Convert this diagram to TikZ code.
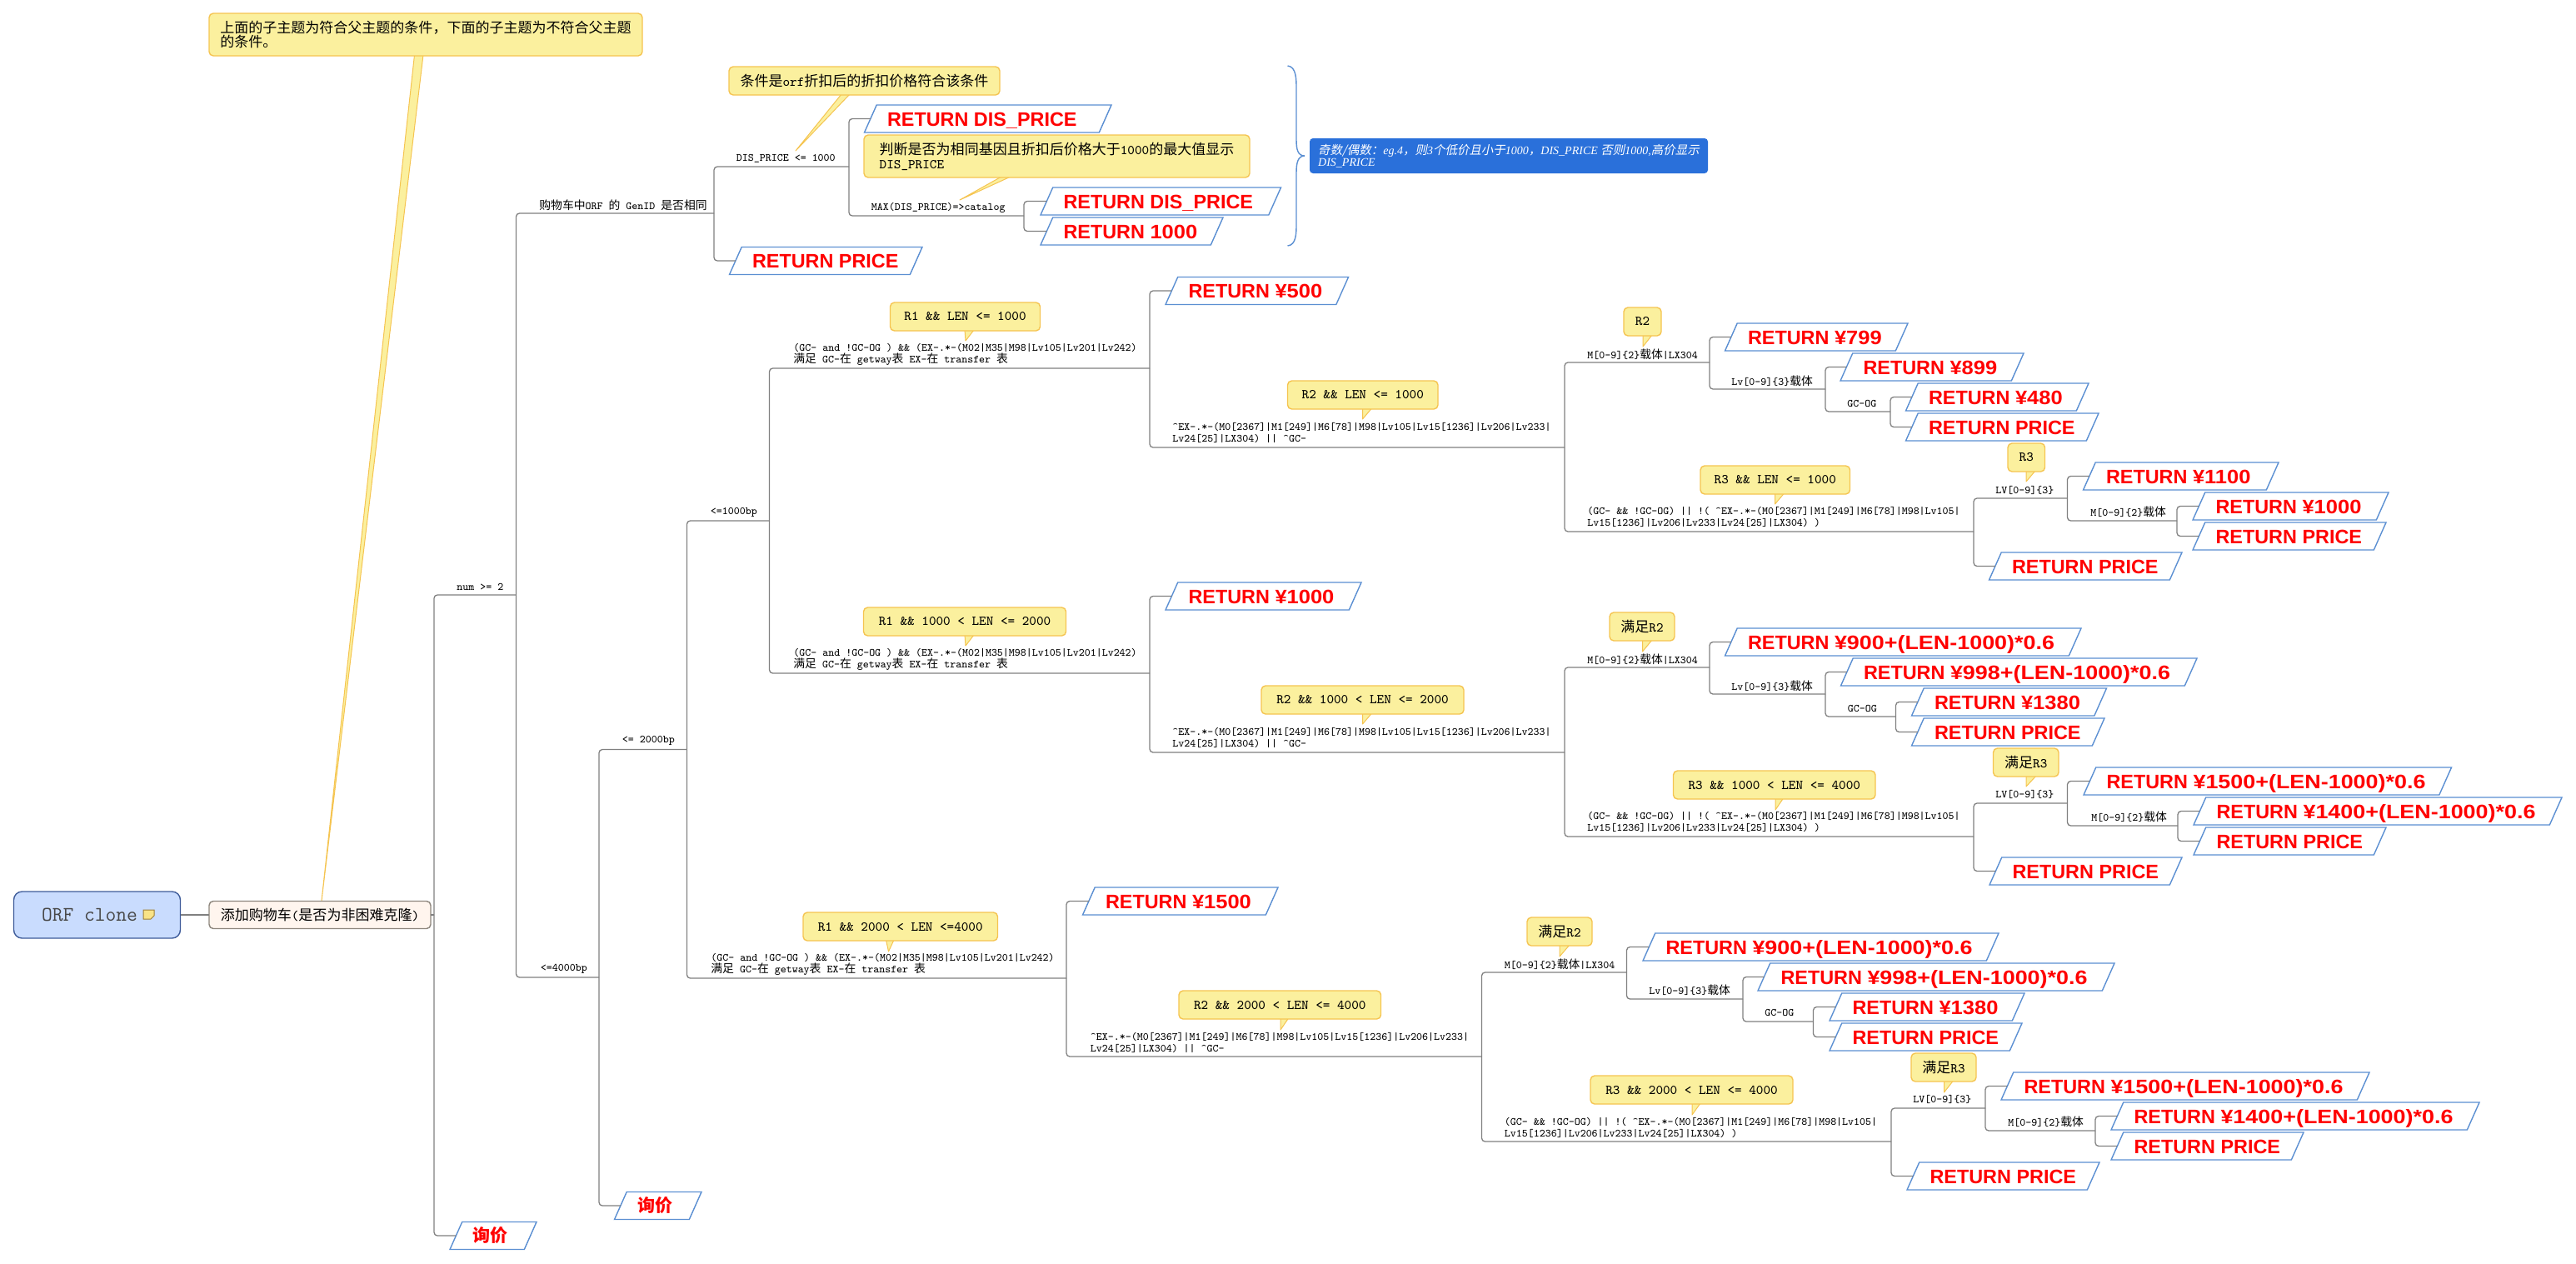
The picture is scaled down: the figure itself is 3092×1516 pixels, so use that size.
\documentclass[tikz,border=0pt]{standalone}
\usepackage{fontspec}
\usetikzlibrary{shapes.geometric}
\newfontfamily\cnfont[Scale=1.05]{Noto Sans CJK SC}
\newfontfamily\cnslant[FakeSlant=0.2,Scale=1.035]{Noto Sans CJK SC}
\newfontfamily\retfont{Liberation Sans}
\newfontfamily\retwide[FakeStretch=1.15]{Liberation Sans}
\newfontfamily\retshort[FakeStretch=1.09]{Liberation Sans}
\newfontfamily\notefont{Liberation Serif}
\newcommand{\zh}[1]{{\cnfont #1}}
\newcommand{\zhi}[1]{{\cnslant #1}}
\newcommand{\rw}[1]{{\retwide #1}}
\newcommand{\rs}[1]{{\retshort #1}}
\definecolor{linegray}{HTML}{808080}
\definecolor{retblue}{HTML}{5B8FD2}
\definecolor{callfill}{HTML}{FBF09E}
\definecolor{callline}{HTML}{F5C451}
\definecolor{rootfill}{HTML}{C9DCFE}
\definecolor{rootline}{HTML}{3F5C9A}
\definecolor{topicfill}{HTML}{FFF5EE}
\definecolor{topicline}{HTML}{8C857C}
\definecolor{notefill}{HTML}{2A70DA}
\tikzset{
  branch/.style={draw=linegray,line width=.65pt,rounded corners=2pt},
  retbox/.style={shape=trapezium,trapezium left angle=66,trapezium right angle=114,
    draw=retblue,line width=.7pt,fill=white,text=red,
    inner xsep=0pt,inner ysep=4pt,outer sep=0pt,
    text height=8.5pt,text depth=0pt,
    font=\retfont\bfseries\fontsize{11.7}{14}\selectfont},
  askbox/.style={retbox,text height=7.6pt,inner ysep=4.45pt,font=\cnfont\bfseries\fontsize{10}{12}\selectfont},
  callbox/.style={draw=callline,fill=callfill,line width=.7pt,rounded corners=2.5pt,
    minimum height=17pt,inner sep=0pt,outer sep=0pt,align=left,
    font=\ttfamily\fontsize{8.1}{8.5}\selectfont},
  calltail/.style={draw=callline,fill=callfill,line width=.5pt,line join=round},
  condlabel/.style={anchor=west,inner sep=0pt,align=left,
    font=\ttfamily\fontsize{6.58}{7}\selectfont},
}
\newcommand{\retn}[6][retbox]{\node[#1] (#2) at ({(#3+#4)/2},#5) {\makebox[\fpeval{(#4-#3-29.4)/2}pt][l]{\kern6.4pt #6}};}
\newcommand{\calln}[6][]{\node[callbox,minimum width={(#4-#3)*.5pt},#1] (#2) at ({(#3+#4)/2},#5) {#6};}
\newcommand{\condA}{(GC- and !GC-OG ) \&\& (EX-.*-(M02|M35|M98|Lv105|Lv201|Lv242)\\\zh{满足} GC-\zh{在} getway\zh{表} EX-\zh{在} transfer \zh{表}}
\newcommand{\condB}{\textasciicircum EX-.*-(M0[2367]|M1[249]|M6[78]|M98|Lv105|Lv15[1236]|Lv206|Lv233|\\Lv24[25]|LX304) || \textasciicircum GC-}
\newcommand{\condC}{(GC- \&\& !GC-OG) || !( \textasciicircum EX-.*-(M0[2367]|M1[249]|M6[78]|M98|Lv105|\\Lv15[1236]|Lv206|Lv233|Lv24[25]|LX304) )}
\newcommand{\condM}{M[0-9]\{2\}\zh{载体}|LX304}
\newcommand{\condL}{Lv[0-9]\{3\}\zh{载体}}
\newcommand{\condN}{M[0-9]\{2\}\zh{载体}}
\newcommand{\condV}{LV[0-9]\{3\}}
\newcommand{\rprice}{RETURN PRICE}
\begin{document}
\begin{tikzpicture}[x=.5pt,y=-.5pt]
  \useasboundingbox (0,0) rectangle (3092,1516);
  % junctions of the map
  \coordinate (j0) at (521,1098);
  \coordinate (j1) at (619.5,714);
  \coordinate (j2) at (857,256);
  \coordinate (j3) at (1019,200);
  \coordinate (j4) at (1229,259);
  \coordinate (j5) at (719,1173);
  \coordinate (j6) at (824.5,899.5);
  \coordinate (j7) at (923.5,625);
  % first block
  \coordinate (a1) at (1380,442);
  \coordinate (a2) at (1878,537);
  \coordinate (a3) at (2052,435);
  \coordinate (a4) at (2191,467);
  \coordinate (a5) at (2269,494);
  \coordinate (a6) at (2369,638);
  \coordinate (a7) at (2481.5,598);
  \coordinate (a8) at (2613,625);
  % second block
  \coordinate (b1) at (1380,808);
  \coordinate (b2) at (1878,903);
  \coordinate (b3) at (2052,801);
  \coordinate (b4) at (2191,833);
  \coordinate (b5) at (2275.5,860);
  \coordinate (b6) at (2369,1004);
  \coordinate (b7) at (2481.5,964);
  \coordinate (b8) at (2614,991);
  % third block
  \coordinate (c1) at (1280,1174);
  \coordinate (c2) at (1778.5,1268);
  \coordinate (c3) at (1952.5,1167);
  \coordinate (c4) at (2092,1199);
  \coordinate (c5) at (2176.5,1226);
  \coordinate (c6) at (2270,1370);
  \coordinate (c7) at (2383,1330);
  \coordinate (c8) at (2515,1357);

  \node[draw=rootline,fill=rootfill,line width=.7pt,rounded corners=5pt,minimum width=100pt,minimum height=28pt,inner sep=0pt,outer sep=0pt,text=black!72,font=\ttfamily\fontsize{12.4}{14}\selectfont] (root) at (116.5,1098) {ORF clone\kern9pt};
  \draw[draw=black!35!callline,fill=callfill!70!callline,line width=.5pt] (172,1092) -- (185,1092) -- (185,1099) -- (181,1103) -- (172,1103) -- cycle;
  \draw[calltail] (497.5,66) -- (386,1081) -- (508,66);
  \node[draw=topicline,fill=topicfill,line width=.7pt,rounded corners=2.5pt,minimum width=133pt,minimum height=16.5pt,inner sep=0pt,outer sep=0pt,font=\ttfamily\fontsize{8.1}{9}\selectfont] (topic) at (384,1098) {\zh{添加购物车}(\zh{是否为非困难克隆})};
  \calln[minimum height=25.5pt]{n0}{251}{771}{41.5}{\zh{上面的子主题为符合父主题的条件，下面的子主题为不符合父主题}\\\zh{的条件。}}

  % tails of the callouts
  \draw[calltail] (1010,113) -- (955,181) -- (1020,113);
  \draw[calltail] (1202,212) -- (1152,240) -- (1213,212);
  \draw[calltail] (1158,396) -- (1159,409) -- (1169,396);
  \draw[calltail] (1635.5,490) -- (1635.5,503) -- (1646.5,490);
  \draw[calltail] (1972,402) -- (1972,416) -- (1983,402);
  \draw[calltail] (2130.5,592) -- (2130.5,605) -- (2141.5,592);
  \draw[calltail] (2432,565) -- (2432,578) -- (2443,565);
  \draw[calltail] (1158,762) -- (1159,775) -- (1169,762);
  \draw[calltail] (1635.5,856) -- (1635.5,869) -- (1646.5,856);
  \draw[calltail] (1971.5,768) -- (1971.5,782) -- (1983,768);
  \draw[calltail] (2131,958) -- (2131,972) -- (2140.5,958);
  \draw[calltail] (2432,931) -- (2432,944) -- (2444,931);
  \draw[calltail] (1063.5,1128) -- (1066.5,1142) -- (1073,1128);
  \draw[calltail] (1537,1222) -- (1537,1236) -- (1546.5,1222);
  \draw[calltail] (1872,1134) -- (1872,1148) -- (1884,1134);
  \draw[calltail] (2031,1324) -- (2031,1338) -- (2041,1324);
  \draw[calltail] (2333.5,1297) -- (2333.5,1311) -- (2344.5,1297);

  \calln{n1}{875}{1200}{97}{\zh{条件是}orf\zh{折扣后的折扣价格符合该条件}}
  \calln[minimum height=25.5pt]{n2}{1037}{1500}{187.5}{\zh{判断是否为相同基因且折扣后价格大于}1000\zh{的最大值显示}\\DIS\_PRICE}
  \calln{n3}{1068.5}{1248.5}{380}{R1 \&\& LEN <= 1000}
  \calln{n4}{1545.5}{1726}{474}{R2 \&\& LEN <= 1000}
  \calln{n5}{1949}{1994}{386}{R2}
  \calln{n6}{2041}{2220.5}{576}{R3 \&\& LEN <= 1000}
  \calln{n7}{2410}{2454.5}{549}{R3}
  \calln{n8}{1036.5}{1279.5}{746}{R1 \&\& 1000 < LEN <= 2000}
  \calln{n9}{1514}{1757}{840}{R2 \&\& 1000 < LEN <= 2000}
  \calln{n10}{1932}{2010}{752}{\zh{满足}R2}
  \calln{n11}{2008.5}{2251}{942}{R3 \&\& 1000 < LEN <= 4000}
  \calln{n12}{2392.5}{2471}{915}{\zh{满足}R3}
  \calln{n13}{964}{1197.5}{1112}{R1 \&\& 2000 < LEN <=4000}
  \calln{n14}{1415}{1657.5}{1206}{R2 \&\& 2000 < LEN <= 4000}
  \calln{n15}{1833}{1911}{1118}{\zh{满足}R2}
  \calln{n16}{1909}{2152}{1308}{R3 \&\& 2000 < LEN <= 4000}
  \calln{n17}{2294}{2372}{1281}{\zh{满足}R3}

  % brace and the note beside it
  \draw[draw=retblue,line width=.7pt,rounded corners=4pt] (1545.5,79) .. controls (1556,80) and (1556,95) .. (1556,115) -- (1556,160) .. controls (1556,180) and (1558,187) .. (1566,187);
  \draw[draw=retblue,line width=.7pt,rounded corners=4pt] (1566,187) .. controls (1558,187) and (1556,195) .. (1556,215) -- (1556,260) .. controls (1556,280) and (1556,294) .. (1545.5,295);
  \node[fill=notefill,rounded corners=2pt,minimum width=239pt,minimum height=21pt,inner sep=0pt,outer sep=0pt,text=white,align=left,font=\notefont\itshape\fontsize{7}{7}\selectfont] (note) at (1811,187) {\zhi{奇数/偶数：}eg.4\zhi{，则}3\zhi{个低价且小于}1000\zhi{，}DIS\_PRICE \zhi{否则}1000,\zhi{高价显示}\\DIS\_PRICE};

  % answer boxes
  \retn{r1}{1037.5}{1334}{142.5}{RETURN DIS\_PRICE}
  \retn{r2}{1249}{1537.5}{241.5}{RETURN DIS\_PRICE}
  \retn{r3}{1249}{1468}{277.5}{RETURN \rs{1000}}
  \retn{r4}{875.5}{1107}{313}{\rprice}
  \retn{r5}{1399}{1618.5}{349}{RETURN \rs{¥500}}
  \retn{r6}{2070.5}{2290}{404.5}{RETURN \rs{¥799}}
  \retn{r7}{2209}{2429}{440.5}{RETURN \rs{¥899}}
  \retn{r8}{2287.5}{2507}{476.5}{RETURN \rs{¥480}}
  \retn{r9}{2287.5}{2519}{512.5}{\rprice}
  \retn{r10}{2500.5}{2735}{571.5}{RETURN \rs{¥1100}}
  \retn{r11}{2632}{2867}{607.5}{RETURN \rs{¥1000}}
  \retn{r12}{2632}{2864}{643.5}{\rprice}
  \retn{r13}{2387.5}{2619}{679.5}{\rprice}
  \retn{r14}{1399}{1634}{715.5}{RETURN \rs{¥1000}}
  \retn{r15}{2070.5}{2498}{770.5}{RETURN \rw{¥900+(LEN-1000)*0.6}}
  \retn{r16}{2209.5}{2637}{806.5}{RETURN \rw{¥998+(LEN-1000)*0.6}}
  \retn{r17}{2294.5}{2528.5}{842.5}{RETURN \rs{¥1380}}
  \retn{r18}{2294.5}{2526}{878.5}{\rprice}
  \retn{r19}{2501}{2942.5}{937.5}{RETURN \rw{¥1500+(LEN-1000)*0.6}}
  \retn{r20}{2633}{3075}{973.5}{RETURN \rw{¥1400+(LEN-1000)*0.6}}
  \retn{r21}{2633}{2864}{1009.5}{\rprice}
  \retn{r22}{2388}{2619}{1045.5}{\rprice}
  \retn{r23}{1299.5}{1534}{1081.5}{RETURN \rs{¥1500}}
  \retn{r24}{1972}{2399}{1136.5}{RETURN \rw{¥900+(LEN-1000)*0.6}}
  \retn{r25}{2110}{2538}{1172.5}{RETURN \rw{¥998+(LEN-1000)*0.6}}
  \retn{r26}{2196}{2430}{1208.5}{RETURN \rs{¥1380}}
  \retn{r27}{2196}{2427}{1244.5}{\rprice}
  \retn{r28}{2402}{2844}{1303.5}{RETURN \rw{¥1500+(LEN-1000)*0.6}}
  \retn{r29}{2534}{2976}{1339.5}{RETURN \rw{¥1400+(LEN-1000)*0.6}}
  \retn{r30}{2534}{2765}{1375.5}{\rprice}
  \retn{r31}{2289}{2520}{1411.5}{\rprice}
  \retn[askbox]{r32}{737.5}{842}{1447}{询价}
  \retn[askbox]{r33}{540}{644}{1483}{询价}

  % labels over the branches
  \node[condlabel] (l1) at (548,704) {num >= 2};
  \node[condlabel] (l2) at (647,246) {\zh{购物车中}ORF \zh{的} GenID \zh{是否相同}};
  \node[condlabel] (l3) at (883.5,190) {DIS\_PRICE <= 1000};
  \node[condlabel] (l4) at (1045.5,249) {MAX(DIS\_PRICE)=>catalog};
  \node[condlabel] (l5) at (648.5,1163) {<=4000bp};
  \node[condlabel] (l6) at (746.5,888.5) {<= 2000bp};
  \node[condlabel] (l7) at (852.5,614.5) {<=1000bp};
  \node[condlabel] (l8) at (952,425) {\condA};
  \node[condlabel] (l9) at (1407,519) {\condB};
  \node[condlabel] (l10) at (1905,425) {\condM};
  \node[condlabel] (l11) at (2078,457) {\condL};
  \node[condlabel] (l12) at (2217,484) {GC-OG};
  \node[condlabel] (l13) at (1905,620.5) {\condC};
  \node[condlabel] (l14) at (2395,588) {\condV};
  \node[condlabel] (l15) at (2509,614) {\condN};
  \node[condlabel] (l16) at (952,791) {\condA};
  \node[condlabel] (l17) at (1407,885) {\condB};
  \node[condlabel] (l18) at (1905,791) {\condM};
  \node[condlabel] (l19) at (2078,823) {\condL};
  \node[condlabel] (l20) at (2217.5,850) {GC-OG};
  \node[condlabel] (l21) at (1905,986.5) {\condC};
  \node[condlabel] (l22) at (2395,953) {\condV};
  \node[condlabel] (l23) at (2510,980) {\condN};
  \node[condlabel] (l24) at (853,1157) {\condA};
  \node[condlabel] (l25) at (1308.5,1251) {\condB};
  \node[condlabel] (l26) at (1805.5,1157) {\condM};
  \node[condlabel] (l27) at (1979,1188) {\condL};
  \node[condlabel] (l28) at (2118,1215) {GC-OG};
  \node[condlabel] (l29) at (1805.5,1353) {\condC};
  \node[condlabel] (l30) at (2296,1319) {\condV};
  \node[condlabel] (l31) at (2410,1346) {\condN};

  \begin{scope}
    \draw[branch] (root) to (topic);
    \draw[branch] (topic) to (j0);
    \draw[branch] (j0) |- (j1);
    \draw[branch] (j0) |- (r33);
    \draw[branch] (j1) |- (j2);
    \draw[branch] (j1) |- (j5);
    \draw[branch] (j2) |- (j3);
    \draw[branch] (j2) |- (r4);
    \draw[branch] (j3) |- (r1);
    \draw[branch] (j3) |- (j4);
    \draw[branch] (j4) |- (r2);
    \draw[branch] (j4) |- (r3);
    \draw[branch] (j5) |- (j6);
    \draw[branch] (j5) |- (r32);
    \draw[branch] (j6) |- (j7);
    \draw[branch] (j6) |- (c1);
    \draw[branch] (j7) |- (a1);
    \draw[branch] (j7) |- (b1);
    \draw[branch] (a1) |- (r5);
    \draw[branch] (a1) |- (a2);
    \draw[branch] (a2) |- (a3);
    \draw[branch] (a2) |- (a6);
    \draw[branch] (a3) |- (r6);
    \draw[branch] (a3) |- (a4);
    \draw[branch] (a4) |- (r7);
    \draw[branch] (a4) |- (a5);
    \draw[branch] (a5) |- (r8);
    \draw[branch] (a5) |- (r9);
    \draw[branch] (a6) |- (a7);
    \draw[branch] (a6) |- (r13);
    \draw[branch] (a7) |- (r10);
    \draw[branch] (a7) |- (a8);
    \draw[branch] (a8) |- (r11);
    \draw[branch] (a8) |- (r12);
    \draw[branch] (b1) |- (r14);
    \draw[branch] (b1) |- (b2);
    \draw[branch] (b2) |- (b3);
    \draw[branch] (b2) |- (b6);
    \draw[branch] (b3) |- (r15);
    \draw[branch] (b3) |- (b4);
    \draw[branch] (b4) |- (r16);
    \draw[branch] (b4) |- (b5);
    \draw[branch] (b5) |- (r17);
    \draw[branch] (b5) |- (r18);
    \draw[branch] (b6) |- (b7);
    \draw[branch] (b6) |- (r22);
    \draw[branch] (b7) |- (r19);
    \draw[branch] (b7) |- (b8);
    \draw[branch] (b8) |- (r20);
    \draw[branch] (b8) |- (r21);
    \draw[branch] (c1) |- (r23);
    \draw[branch] (c1) |- (c2);
    \draw[branch] (c2) |- (c3);
    \draw[branch] (c2) |- (c6);
    \draw[branch] (c3) |- (r24);
    \draw[branch] (c3) |- (c4);
    \draw[branch] (c4) |- (r25);
    \draw[branch] (c4) |- (c5);
    \draw[branch] (c5) |- (r26);
    \draw[branch] (c5) |- (r27);
    \draw[branch] (c6) |- (c7);
    \draw[branch] (c6) |- (r31);
    \draw[branch] (c7) |- (r28);
    \draw[branch] (c7) |- (c8);
    \draw[branch] (c8) |- (r29);
    \draw[branch] (c8) |- (r30);
  \end{scope}
\end{tikzpicture}
\end{document}
